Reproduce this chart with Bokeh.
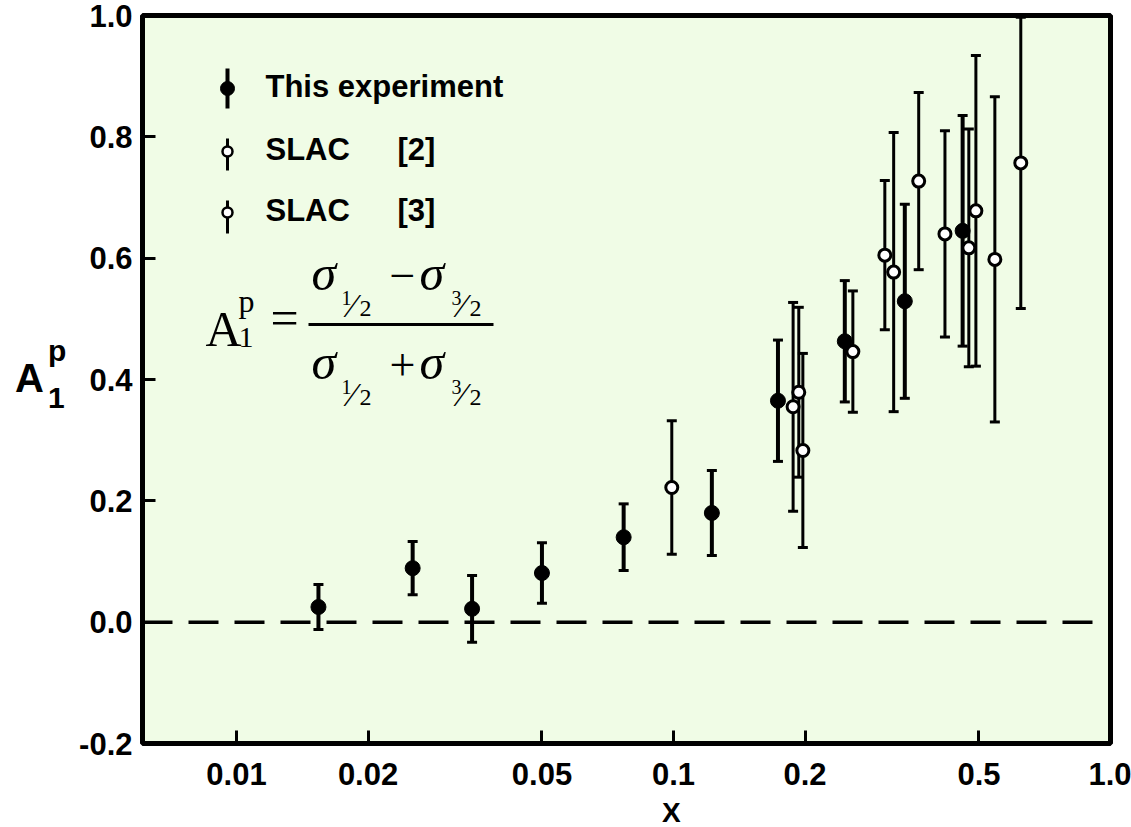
from bokeh.plotting import figure
from bokeh.models import (ColumnDataSource, Whisker, TeeHead, Span, Label, FixedTicker,
                          PrintfTickFormatter, CustomJSTickFormatter, BoxAnnotation, Range1d, Div)
from bokeh.layouts import row, column
from bokeh.embed import file_html
from bokeh.resources import INLINE

# ---------------- data ----------------
exp_x = [0.0154, 0.0253, 0.0346, 0.0500, 0.0769, 0.1224, 0.1734, 0.2466, 0.3383, 0.4588]
exp_y = [0.025, 0.089, 0.022, 0.081, 0.140, 0.180, 0.365, 0.463, 0.529, 0.645]
exp_err = [0.037, 0.044, 0.055, 0.050, 0.055, 0.070, 0.100, 0.100, 0.160, 0.190]

slac2_x = [0.0991, 0.1878, 0.2573, 0.3190, 0.4180, 0.5437]
slac2_y = [0.222, 0.355, 0.446, 0.577, 0.640, 0.598]
slac2_err = [0.110, 0.172, 0.100, 0.230, 0.170, 0.268]

slac3_x = [0.1935, 0.1977, 0.3045, 0.3640, 0.4740, 0.4920, 0.6233]
slac3_y = [0.379, 0.283, 0.605, 0.727, 0.617, 0.678, 0.757]
slac3_err = [0.140, 0.160, 0.123, 0.146, 0.196, 0.256, 0.240]

x_ticks = [0.01, 0.02, 0.05, 0.1, 0.2, 0.5, 1.0]
y_ticks = [-0.2, 0.0, 0.2, 0.4, 0.6, 0.8, 1.0]
legend_labels = ["This experiment", "SLAC", "SLAC"]
legend_refs = ["", "[2]", "[3]"]
x_title = "X"

# ---------------- layout helpers (page pixels) ----------------
LEFT_W = 66                      # width of the y-title strip
W, H = 1131 - LEFT_W, 797        # figure size
FR_L, FR_R, FR_T, FR_B = 142, 1110, 15, 743      # frame edges in page pixels
DEC = 437.0                                       # pixels per decade
X0 = 10 ** (-(FR_R - FR_L) / DEC)


def X(px):
    return 10 ** (-(FR_R - px) / DEC)


def Y(py):
    return 1.0 - (py - FR_T) * 1.2 / (FR_B - FR_T)


p = figure(width=W, height=H, x_axis_type="log", x_range=Range1d(X0, 1.0),
           y_range=Range1d(-0.2, 1.0), output_backend="svg", toolbar_location=None,
           title=None, min_border_left=FR_L - LEFT_W, min_border_right=LEFT_W + W - FR_R,
           min_border_top=FR_T, min_border_bottom=H - FR_B)

p.background_fill_color = "#f0fce6"
p.border_fill_color = "white"
p.outline_line_color = "black"
p.outline_line_width = 5
p.grid.visible = False

p.xaxis.ticker = FixedTicker(ticks=x_ticks, minor_ticks=[])
p.xaxis.formatter = CustomJSTickFormatter(code="return tick >= 1 ? tick.toFixed(1) : String(tick);")
p.yaxis.ticker = FixedTicker(ticks=y_ticks, minor_ticks=[])
p.yaxis.formatter = PrintfTickFormatter(format="%.1f")
for ax in (p.xaxis[0], p.yaxis[0]):
    ax.axis_line_color = None
    ax.major_tick_in = 13
    ax.major_tick_out = 0
    ax.major_tick_line_width = 3
    ax.major_tick_line_color = "black"
    ax.minor_tick_line_color = None
    ax.major_label_text_font = "Liberation Sans"
    ax.major_label_text_font_style = "bold"
    ax.major_label_text_font_size = "31px"
    ax.major_label_text_color = "black"
p.yaxis.major_label_standoff = 10
p.xaxis.major_label_standoff = 19

# zero line
p.add_layout(Span(location=0, dimension="width", line_color="black",
                  line_width=3.5, line_dash="30 16"))


def series(xs, ys, errs, filled):
    src = ColumnDataSource(dict(x=xs, y=ys,
                                lo=[y - e for y, e in zip(ys, errs)],
                                hi=[y + e for y, e in zip(ys, errs)]))
    lw = 4 if filled else 3
    p.add_layout(Whisker(base="x", upper="hi", lower="lo", source=src, dimension="height",
                         line_color="black", line_width=lw,
                         upper_head=TeeHead(size=10, line_width=3, line_color="black"),
                         lower_head=TeeHead(size=10, line_width=3, line_color="black")))
    if filled:
        p.scatter("x", "y", source=src, size=15, fill_color="black", line_color="black")
    else:
        p.scatter("x", "y", source=src, size=12, fill_color="white",
                  line_color="black", line_width=3)


series(slac2_x, slac2_y, slac2_err, False)
series(slac3_x, slac3_y, slac3_err, False)
series(exp_x, exp_y, exp_err, True)

SERIF = "Liberation Serif"
SANS = "Liberation Sans"


def txt(t, px, py, size, style="normal", font=SERIF, align="left"):
    # py is the wanted baseline in page pixels; the label box sits ~0.385 em lower
    p.add_layout(Label(x=X(px), y=Y(py - 0.385 * size), text=t, text_font=font,
                       text_font_size=f"{size}px", text_font_style=style,
                       text_color="black", text_baseline="alphabetic", text_align=align))


# ---------------- legend (manual, vertical error-bar keys) ----------------
key_px = 227
rows = [(88, 68, 108, True), (151, 138, 170, False), (212, 200, 233, False)]
for (cy, top, bot, filled), lab, ref in zip(rows, legend_labels, legend_refs):
    p.segment(x0=[X(key_px)], y0=[Y(top)], x1=[X(key_px)], y1=[Y(bot)],
              line_color="black", line_width=4 if filled else 3)
    if filled:
        p.scatter(x=[X(key_px)], y=[Y(cy)], size=14, fill_color="black", line_color="black")
    else:
        p.scatter(x=[X(key_px)], y=[Y(cy)], size=10, fill_color="white",
                  line_color="black", line_width=2.5)
    txt(lab, 265, cy + 10, 31, "bold", SANS)
    if ref:
        txt(ref, 397, cy + 10, 31, "bold", SANS)

# ---------------- formula ----------------
txt("A", 205, 348, 50)
txt("p", 238, 313, 32)
txt("1", 238, 349, 30)
txt("=", 270, 337, 50)
p.add_layout(BoxAnnotation(left=X(308), right=X(493), top=Y(322.5), bottom=Y(325.5),
                           fill_color="black", fill_alpha=1, line_color=None))
for base, op in ((292, "\u2212"), (381, "+")):
    txt("\u03c3", 311, base, 50, "italic")
    txt("1", 341, base + 13, 20)
    txt("\u2044", 349, base + 26, 34)
    txt("2", 359, base + 25, 24)
    txt(op, 389, base + 1, 46)
    txt("\u03c3", 419, base, 50, "italic")
    txt("3", 451, base + 13, 20)
    txt("\u2044", 459, base + 26, 34)
    txt("2", 469, base + 25, 24)

# ---------------- axis titles (outside the frame, as HTML text) ----------------
NARROW = "'Liberation Sans Narrow', 'Liberation Sans', Arial, sans-serif"


def span(t, left, top, size):
    return (f'<span style="position:absolute; left:{left}px; top:{top}px; '
            f'font-size:{size}px; line-height:1; font-family:{NARROW}; '
            f'font-weight:bold; color:black;">{t}</span>')


ytitle = Div(text=(f'<div style="position:relative; width:{LEFT_W}px; height:{H}px;">'
                   + span("A", 15, 358, 40) + span("p", 48, 336, 30) + span("1", 48, 383, 30)
                   + '</div>'),
             width=LEFT_W, height=H, margin=0)
xtitle = Div(text=(f'<div style="position:relative; width:1131px; height:28px;">'
                   + span(x_title, 662, 2, 28) + '</div>'),
             width=1131, height=28, margin=0)

layout = column(row(ytitle, p, spacing=0), xtitle, spacing=0)
open("out.html", "w").write(file_html(layout, INLINE))
